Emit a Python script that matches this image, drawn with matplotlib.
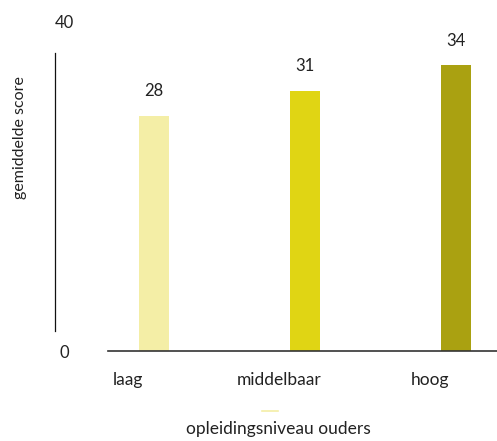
import matplotlib
matplotlib.use("Agg")
import matplotlib.pyplot as plt
from matplotlib.lines import Line2D

categories = ["laag", "middelbaar", "hoog"]
values = [28, 31, 34]
colors = ["#F4EEA6", "#E0D514", "#AAA111"]
y_ticks = [0, 40]
y_tick_labels = ["0", "40"]
x_title = "opleidingsniveau ouders"
y_title = "gemiddelde score"

plt.rcParams['font.family'] = ['Lato', 'DejaVu Sans']
W, H = 497, 441
fig = plt.figure(figsize=(W / 100, H / 100), dpi=100)
ax = fig.add_axes([108 / W, 1 - 351 / H, (497 - 108) / W, (351 - 15) / H])

x = list(range(len(categories)))
ax.bar(x, values, width=0.2, color=colors, zorder=2)
ax.set_ylim(0, 40)
ax.set_xlim(-0.305, 2.271)

for s in ["top", "right"]:
    ax.spines[s].set_visible(False)
ax.spines["bottom"].set_color("#333333")
ax.spines["bottom"].set_linewidth(1.2)
ax.spines["left"].set_position(("outward", 53 * 0.72))
ax.spines["left"].set_bounds(2.4, 35.5)
ax.spines["left"].set_linewidth(0.9)
ax.spines["left"].set_color("#111111")

ax.set_yticks(y_ticks)
ax.set_yticklabels(y_tick_labels, fontsize=12, color="#222222")
ax.tick_params(axis="y", length=0, pad=-7)
for lbl in ax.get_yticklabels():
    lbl.set_ha("center")
ax.get_yticklabels()[1].set_va("top")

ax.set_xticks([xi - 0.17 for xi in x])
ax.set_xticklabels(categories, fontsize=12.5, color="#222222")
ax.tick_params(axis="x", length=0, pad=15)

for xi, v in zip(x, values):
    ax.annotate(str(v), (xi, v), xytext=(0, 17.5), textcoords="offset points",
                ha="center", va="center", fontsize=12, color="#222222")

fig.text(278 / W, 1 - 429 / H, x_title, ha="center", va="center", fontsize=12.5, color="#222222")
fig.text(20 / W, 1 - 138 / H, y_title, ha="center", va="center", rotation=90, fontsize=11.5, color="#222222")

leg = fig.legend(handles=[Line2D([], [], color="#F4EEA6", lw=1.2)], labels=[""],
                 loc="center", bbox_to_anchor=(270 / W, 1 - 412 / H), frameon=False,
                 handlelength=1.1, handletextpad=0, borderpad=0)

fig.savefig("out.png", dpi=100)
